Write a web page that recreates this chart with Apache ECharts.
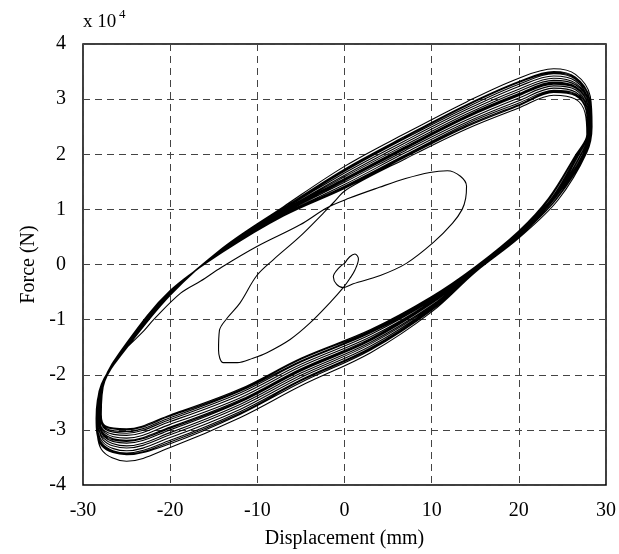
<!DOCTYPE html>
<html>
<head>
<meta charset="utf-8">
<script src="https://cdn.jsdelivr.net/npm/echarts@6/dist/echarts.min.js"></script>
<style>
  html, body { margin: 0; padding: 0; background: #fff; }
  #chart { width: 619px; height: 554px; }
</style>
</head>
<body>
<div id="chart"></div>
<script>
// displacement in mm, force in units of 10^4 N
var xTicks = [-30, -20, -10, 0, 10, 20, 30];
var yTicks = [-4, -3, -2, -1, 0, 1, 2, 3, 4];

// start: small loop round the origin, then the half cycle to -14 mm and up into the band
var rampIn = [[0.06,0.03],[0.6,0.14],[1.2,0.19],[1.6,0.1],[1.2,-0.1],[0.63,-0.25],[-0.14,-0.42],
  [-1.66,-0.69],[-3.95,-1.06],[-6.24,-1.36],[-8.9,-1.6],[-10.5,-1.7],[-12.3,-1.78],[-13.9,-1.78],
  [-14.45,-1.55],[-14.35,-1.2],[-13.5,-0.98],[-12,-0.7],[-10.06,-0.2],[-8.15,0.09],[-5.1,0.51],
  [-2.5,0.92],[-1.28,1.12],[0.25,1.36],[7,1.92],[14,2.46],[20,2.84],[24,3.07],[26.5,3.0],
  [27.6,2.75],[27.8,2.36],[26.4,1.96],[23.4,1.2],[20,0.61],[15,-0.04],[10,-0.58],[3,-1.18],
  [-5,-1.7],[-12,-2.26],[-20,-2.73],[-25,-2.98],[-27.4,-2.93]];

// full cycles at +-28 mm
var c1 = [[-27.9,-2.72],[-27.5,-2.10],[-25,-1.42],[-20,-0.47],[-14,0.22],[-7,0.88],[0,1.38],[7,1.95],[14,2.5],[20,2.88],[24,3.12],[26.5,3.06],[27.7,2.8],[27.9,2.4],[26.5,1.98],[23.5,1.2],[20,0.6],[15,-0.05],[10,-0.6],[3,-1.2],[-5,-1.72],[-12,-2.28],[-20,-2.75],[-25,-3.0],[-27.4,-2.95]];
var c2 = [[-27.95,-2.74],[-27.5,-2.11],[-25,-1.43],[-20,-0.48],[-14,0.22],[-7,0.89],[0,1.4],[7,1.97],[14,2.52],[20,2.9],[24,3.14],[26.5,3.08],[27.7,2.81],[27.9,2.4],[26.55,1.99],[23.55,1.2],[20,0.6],[15,-0.06],[10,-0.61],[3,-1.22],[-5,-1.75],[-12,-2.3],[-20,-2.78],[-25,-3.03],[-27.4,-2.97]];
var c3 = [[-28.0,-2.76],[-27.5,-2.12],[-25,-1.44],[-20,-0.49],[-14,0.23],[-7,0.9],[0,1.42],[7,1.99],[14,2.55],[20,2.93],[24,3.16],[26.5,3.1],[27.7,2.82],[27.9,2.41],[26.6,2.0],[23.6,1.21],[20,0.59],[15,-0.06],[10,-0.63],[3,-1.24],[-5,-1.77],[-12,-2.33],[-20,-2.81],[-25,-3.06],[-27.45,-2.99]];
var c4 = [[-28.0,-2.74],[-27.6,-2.11],[-25,-1.43],[-20,-0.48],[-14,0.23],[-7,0.91],[0,1.45],[7,2.03],[14,2.58],[20,2.97],[24,3.2],[26.5,3.13],[27.8,2.84],[28.0,2.42],[26.7,1.99],[23.7,1.19],[20,0.58],[15,-0.07],[10,-0.65],[3,-1.27],[-5,-1.81],[-12,-2.37],[-20,-2.85],[-25,-3.1],[-27.5,-3.02]];
var c5 = [[-28.1,-2.78],[-27.6,-2.14],[-25,-1.46],[-20,-0.5],[-14,0.25],[-7,0.93],[0,1.49],[7,2.07],[14,2.62],[20,3.02],[24,3.24],[26.5,3.17],[27.8,2.87],[28.0,2.43],[26.8,2.01],[23.8,1.2],[20,0.57],[15,-0.07],[10,-0.67],[3,-1.31],[-5,-1.85],[-12,-2.42],[-20,-2.9],[-25,-3.15],[-27.5,-3.05]];
var c6 = [[-28.1,-2.73],[-27.6,-2.13],[-25,-1.45],[-20,-0.49],[-14,0.24],[-7,0.94],[0,1.52],[7,2.1],[14,2.66],[20,3.06],[24,3.27],[26.5,3.2],[27.9,2.89],[28.1,2.44],[26.9,2.0],[23.85,1.18],[20,0.56],[15,-0.08],[10,-0.69],[3,-1.34],[-5,-1.89],[-12,-2.46],[-20,-2.95],[-25,-3.19],[-27.55,-3.08]];
var c7 = [[-28.15,-2.75],[-27.65,-2.14],[-25,-1.46],[-20,-0.51],[-14,0.25],[-7,0.95],[0,1.54],[7,2.12],[14,2.68],[20,3.08],[24,3.29],[26.5,3.21],[27.9,2.9],[28.1,2.44],[26.95,2.01],[23.9,1.19],[20,0.56],[15,-0.08],[10,-0.7],[3,-1.36],[-5,-1.91],[-12,-2.48],[-20,-2.97],[-25,-3.21],[-27.6,-3.1]];
var c8 = [[-28.2,-2.77],[-27.7,-2.15],[-25,-1.47],[-20,-0.52],[-14,0.26],[-7,0.96],[0,1.56],[7,2.14],[14,2.7],[20,3.1],[24,3.31],[26.5,3.23],[27.9,2.91],[28.1,2.45],[27.0,2.02],[23.9,1.21],[20,0.55],[15,-0.09],[10,-0.71],[3,-1.38],[-5,-1.93],[-12,-2.5],[-20,-3.0],[-25,-3.24],[-27.6,-3.12]];
var c9 = [[-28.2,-2.75],[-27.7,-2.14],[-25,-1.46],[-20,-0.5],[-14,0.26],[-7,0.97],[0,1.59],[7,2.17],[14,2.73],[20,3.14],[24,3.34],[26.5,3.26],[28.0,2.93],[28.2,2.46],[27.1,2.0],[24.0,1.2],[20,0.54],[15,-0.1],[10,-0.74],[3,-1.41],[-5,-1.97],[-12,-2.54],[-20,-3.05],[-25,-3.29],[-27.65,-3.15]];
var c10 = [[-28.3,-2.79],[-27.7,-2.17],[-25,-1.49],[-20,-0.53],[-14,0.27],[-7,0.98],[0,1.62],[7,2.21],[14,2.77],[20,3.18],[24,3.38],[26.5,3.29],[28.0,2.95],[28.2,2.46],[27.2,2.01],[24.05,1.19],[20,0.53],[15,-0.1],[10,-0.76],[3,-1.44],[-5,-2.01],[-12,-2.58],[-20,-3.09],[-25,-3.33],[-27.7,-3.18]];
var c11 = [[-28.3,-2.74],[-27.8,-2.16],[-25,-1.48],[-20,-0.52],[-14,0.27],[-7,1.0],[0,1.66],[7,2.25],[14,2.81],[20,3.23],[24,3.42],[26.5,3.33],[28.0,2.97],[28.2,2.47],[27.3,1.99],[24.15,1.2],[20,0.52],[15,-0.11],[10,-0.78],[3,-1.48],[-5,-2.05],[-12,-2.63],[-20,-3.14],[-25,-3.38],[-27.75,-3.22]];
var c12 = [[-28.4,-2.78],[-27.8,-2.18],[-25,-1.5],[-20,-0.54],[-14,0.28],[-7,1.01],[0,1.69],[7,2.29],[14,2.85],[20,3.27],[24,3.46],[26.5,3.36],[28.1,2.99],[28.3,2.48],[27.4,2.02],[24.25,1.18],[20,0.51],[15,-0.12],[10,-0.8],[3,-1.51],[-5,-2.09],[-12,-2.67],[-20,-3.19],[-25,-3.42],[-27.8,-3.25]];
var c13 = [[-28.4,-2.77],[-27.85,-2.17],[-25,-1.5],[-20,-0.54],[-14,0.28],[-7,1.02],[0,1.71],[7,2.31],[14,2.88],[20,3.3],[24,3.48],[26.5,3.38],[28.1,3.0],[28.3,2.48],[27.5,2.01],[24.3,1.19],[20,0.5],[15,-0.12],[10,-0.81],[3,-1.53],[-5,-2.11],[-12,-2.7],[-20,-3.22],[-25,-3.44],[-27.8,-3.27]];
var c14 = [[-28.4,-2.76],[-27.9,-2.17],[-25,-1.49],[-20,-0.53],[-14,0.29],[-7,1.03],[0,1.73],[7,2.33],[14,2.9],[20,3.32],[24,3.5],[26.5,3.4],[28.1,3.02],[28.3,2.49],[27.6,2.0],[24.35,1.19],[20,0.5],[15,-0.13],[10,-0.83],[3,-1.55],[-5,-2.14],[-12,-2.72],[-20,-3.25],[-25,-3.45],[-27.85,-3.29]];
var c15 = [[-28.5,-2.8],[-27.9,-2.2],[-25,-1.52],[-20,-0.56],[-14,0.3],[-7,1.05],[0,1.78],[7,2.38],[14,2.95],[20,3.38],[24,3.55],[26.5,3.45],[28.2,3.05],[28.4,2.5],[27.8,2.03],[24.5,1.17],[20,0.48],[15,-0.14],[10,-0.86],[3,-1.6],[-5,-2.2],[-12,-2.78],[-20,-3.32],[-25,-3.57],[-27.9,-3.35]];

// end: last half cycle to +14 mm and back to the origin
var rampOut = [[-28.4,-2.85],[-27.9,-2.2],[-26.2,-1.72],[-24.6,-1.45],[-23,-1.2],[-21.9,-1.0],
  [-18.8,-0.52],[-16.5,-0.3],[-14.1,-0.05],[-10,0.33],[-5.1,0.72],[-2,1.03],[0.5,1.2],[4,1.4],
  [7,1.56],[9.8,1.67],[11.8,1.7],[13.3,1.6],[14,1.42],[13.9,1.2],[13.5,1.0],[12.4,0.75],
  [10.2,0.4],[7.1,0.02],[4.1,-0.2],[1.0,-0.35],[-0.14,-0.42],[-0.9,-0.36],[-1.28,-0.22],
  [-0.7,-0.07],[0.06,0.03]];

var path = rampIn.concat(c1, c2, c3, c4, c5, c6, c7, c8, c9, c10, c11, c12, c13, c14, c15, rampOut);

var myChart = echarts.init(document.getElementById('chart'));
var serif = 'Liberation Serif';
var option = {
    animation: false,
    backgroundColor: '#fff',
    grid: {
        left: 83, right: 13, top: 44, bottom: 68,
        show: true,
        borderColor: '#000',
        borderWidth: 1.5
    },
    graphic: [
        { type: 'text', left: 83, top: 13, style: { text: 'x 10', font: '19px "Liberation Serif"', fill: '#000' } },
        { type: 'text', left: 119, top: 8, style: { text: '4', font: '13px "Liberation Serif"', fill: '#000' } }
    ],
    xAxis: {
        type: 'value',
        min: xTicks[0],
        max: xTicks[xTicks.length - 1],
        interval: 10,
        name: 'Displacement (mm)',
        nameLocation: 'middle',
        nameGap: 44,
        nameTextStyle: { fontFamily: serif, fontSize: 20, color: '#000' },
        axisLine: { show: false },
        axisTick: { show: false },
        axisLabel: { fontFamily: serif, fontSize: 20, color: '#000', margin: 16 },
        splitLine: { show: true, lineStyle: { color: '#444', type: [7, 5], width: 1 } }
    },
    yAxis: {
        type: 'value',
        min: yTicks[0],
        max: yTicks[yTicks.length - 1],
        interval: 1,
        name: 'Force (N)',
        nameLocation: 'middle',
        nameGap: 42,
        nameRotate: 90,
        nameTextStyle: { fontFamily: serif, fontSize: 20, color: '#000' },
        axisLine: { show: false },
        axisTick: { show: false },
        axisLabel: { fontFamily: serif, fontSize: 20, color: '#000', margin: 17 },
        splitLine: { show: true, lineStyle: { color: '#444', type: [7, 5], width: 1 } }
    },
    series: [
        {
            type: 'line',
            data: path,
            smooth: 0.35,
            showSymbol: false,
            clip: true,
            lineStyle: { color: '#000', width: 1.1 }
        }
    ]
};
myChart.setOption(option);
</script>
</body>
</html>
